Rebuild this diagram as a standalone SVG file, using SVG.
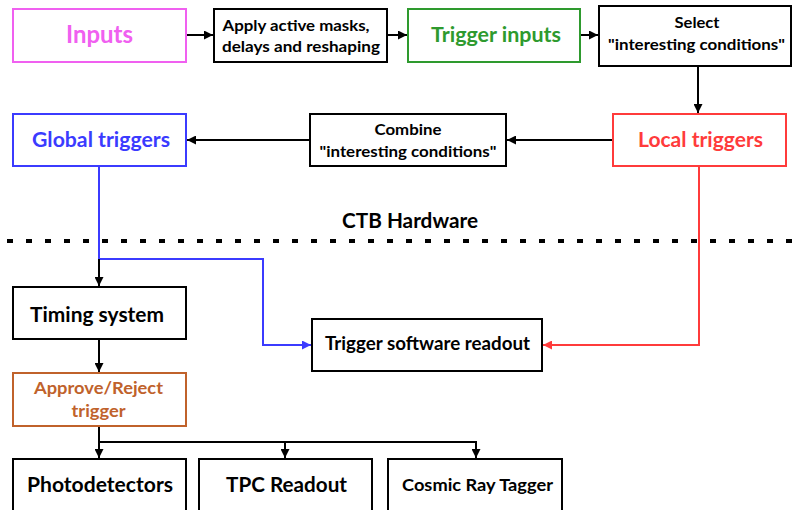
<svg xmlns="http://www.w3.org/2000/svg" width="795" height="510" viewBox="0 0 795 510">
<style>
.box{fill:#fff;stroke-width:2}
.k{stroke:#000}
text{font-family:Lato,"Open Sans","Liberation Sans",sans-serif;font-weight:bold;text-anchor:middle;fill:#000}
.ln{fill:none;stroke-width:2}
</style>
<defs>
<marker id="ak" viewBox="0 0 10 10" refX="10" refY="5" markerWidth="11" markerHeight="9" markerUnits="userSpaceOnUse" orient="auto"><path d="M0,0L10,5L0,10z" fill="#000"/></marker>
<marker id="ab" viewBox="0 0 10 10" refX="10" refY="5" markerWidth="11" markerHeight="9" markerUnits="userSpaceOnUse" orient="auto"><path d="M0,0L10,5L0,10z" fill="#3b3bff"/></marker>
<marker id="ar" viewBox="0 0 10 10" refX="10" refY="5" markerWidth="11" markerHeight="9" markerUnits="userSpaceOnUse" orient="auto"><path d="M0,0L10,5L0,10z" fill="#ff3b3b"/></marker>
</defs>
<rect width="795" height="510" fill="#fff"/>

<g id="connectors">
<path class="ln" stroke="#000" d="M186,35H213" marker-end="url(#ak)"/>
<path class="ln" stroke="#000" d="M387,35H407" marker-end="url(#ak)"/>
<path class="ln" stroke="#000" d="M580,35H598" marker-end="url(#ak)"/>
<path class="ln" stroke="#000" d="M698,66V113" marker-end="url(#ak)"/>
<path class="ln" stroke="#000" d="M613,140H507" marker-end="url(#ak)"/>
<path class="ln" stroke="#000" d="M310,140H187" marker-end="url(#ak)"/>
<path class="ln" stroke="#3b3bff" d="M99,166V259H263V345H311" marker-end="url(#ab)"/>
<path class="ln" stroke="#000" d="M99,259V286" marker-end="url(#ak)"/>
<path class="ln" stroke="#ff3b3b" d="M699,166V345H543" marker-end="url(#ar)"/>
<path class="ln" stroke="#000" d="M99,339V372" marker-end="url(#ak)"/>
<path class="ln" stroke="#000" d="M99,426V458" marker-end="url(#ak)"/>
<path class="ln" stroke="#000" d="M99,442H476V458" marker-end="url(#ak)"/>
<path class="ln" stroke="#000" d="M285,442V458" marker-end="url(#ak)"/>
</g>

<g id="separator">
<line x1="7" y1="241" x2="795" y2="241" stroke="#000" stroke-width="4" stroke-dasharray="6 13"/>
<text x="410" y="228" font-size="20" textLength="136" lengthAdjust="spacingAndGlyphs">CTB Hardware</text>
</g>

<g id="inputs">
<rect class="box" x="13" y="9" width="173" height="53" stroke="#f060f0"/>
<text x="99.5" y="43" font-size="24" style="fill:#f060f0" textLength="67" lengthAdjust="spacingAndGlyphs">Inputs</text>
</g>
<g id="apply">
<rect class="box k" x="214" y="9" width="173" height="53"/>
<text x="296" y="30.5" font-size="16" textLength="147" lengthAdjust="spacingAndGlyphs">Apply active masks,</text>
<text x="301" y="52" font-size="16" textLength="158" lengthAdjust="spacingAndGlyphs">delays and reshaping</text>
</g>
<g id="trigger-inputs">
<rect class="box" x="408" y="9" width="172" height="53" stroke="#2e9a2e"/>
<text x="496" y="42" font-size="21" style="fill:#2e9a2e" textLength="130" lengthAdjust="spacingAndGlyphs">Trigger inputs</text>
</g>
<g id="select">
<rect class="box k" x="599" y="6" width="192" height="60"/>
<text x="697" y="28" font-size="16" textLength="45" lengthAdjust="spacingAndGlyphs">Select</text>
<text x="696.5" y="50" font-size="16" textLength="177" lengthAdjust="spacingAndGlyphs">"interesting conditions"</text>
</g>
<g id="local-triggers">
<rect class="box" x="613" y="114" width="173" height="52" stroke="#ff3b3b"/>
<text x="700.5" y="147" font-size="21" style="fill:#ff3b3b" textLength="125" lengthAdjust="spacingAndGlyphs">Local triggers</text>
</g>
<g id="combine">
<rect class="box k" x="310" y="114" width="196" height="52"/>
<text x="408" y="135" font-size="16" textLength="67" lengthAdjust="spacingAndGlyphs">Combine</text>
<text x="408" y="157" font-size="16" textLength="177" lengthAdjust="spacingAndGlyphs">"interesting conditions"</text>
</g>
<g id="global-triggers">
<rect class="box" x="13" y="114" width="173" height="52" stroke="#3b3bff"/>
<text x="101" y="147" font-size="21" style="fill:#3b3bff" textLength="138" lengthAdjust="spacingAndGlyphs">Global triggers</text>
</g>
<g id="timing-system">
<rect class="box k" x="13" y="287" width="173" height="52"/>
<text x="97" y="322" font-size="21" textLength="134" lengthAdjust="spacingAndGlyphs">Timing system</text>
</g>
<g id="trigger-software-readout">
<rect class="box k" x="312" y="319" width="230" height="52"/>
<text x="427.5" y="350" font-size="18" textLength="205" lengthAdjust="spacingAndGlyphs">Trigger software readout</text>
</g>
<g id="approve-reject">
<rect class="box" x="13" y="373" width="173" height="53" stroke="#c0622b"/>
<text x="98.5" y="394" font-size="17" style="fill:#c0622b" textLength="129" lengthAdjust="spacingAndGlyphs">Approve/Reject</text>
<text x="98.5" y="417" font-size="17" style="fill:#c0622b" textLength="54" lengthAdjust="spacingAndGlyphs">trigger</text>
</g>
<g id="photodetectors">
<rect class="box k" x="13" y="459" width="173" height="60"/>
<text x="100" y="492" font-size="20" textLength="146" lengthAdjust="spacingAndGlyphs">Photodetectors</text>
</g>
<g id="tpc-readout">
<rect class="box k" x="199" y="459" width="173" height="60"/>
<text x="286.5" y="492" font-size="20" textLength="121" lengthAdjust="spacingAndGlyphs">TPC Readout</text>
</g>
<g id="cosmic-ray-tagger">
<rect class="box k" x="388" y="459" width="174" height="60"/>
<text x="477.5" y="491" font-size="17" textLength="151" lengthAdjust="spacingAndGlyphs">Cosmic Ray Tagger</text>
</g>
</svg>
